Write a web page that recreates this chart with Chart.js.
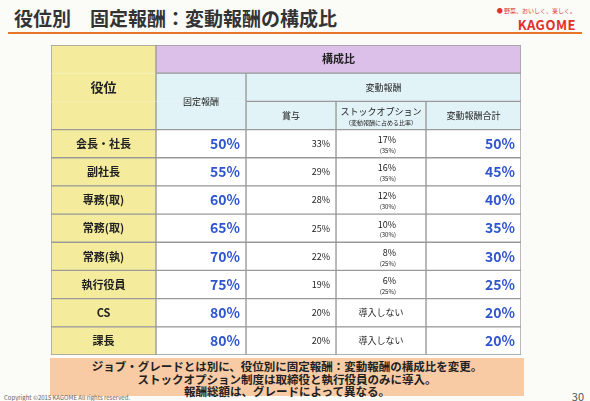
<!DOCTYPE html>
<html><head><meta charset="utf-8">
<script src="https://cdn.jsdelivr.net/npm/chart.js@4.4.1/dist/chart.umd.min.js"></script>
<style>
body{margin:0;width:590px;height:401px;background:#fbfbf8;font-family:"Noto Sans CJK JP",sans-serif;position:relative;overflow:hidden}
#title{position:absolute;left:14px;top:4px;font-size:19px;font-weight:bold;color:#333}
#rule{position:absolute;left:8px;top:32px;width:574px;height:2px;background:#e8742a}
#logo{position:absolute;right:14px;top:6px;text-align:right}
#logo .s{font-size:6px;color:#d33}
#logo .k{font-size:13px;font-weight:bold;color:#e0302a;letter-spacing:.5px}
#wrap{position:absolute;left:50px;top:44px;width:472px;height:312px}
#note{position:absolute;left:50px;top:358px;width:474px;height:36px;background:#f8cba4;text-align:center;font-size:11.5px;font-weight:bold;line-height:12.5px;padding-top:2px;color:#222}
#foot{position:absolute;left:4px;top:393px;font-size:6px;color:#666}
#pg{position:absolute;right:6px;top:388px;font-size:11px;color:#555}
</style></head><body>
<div id="title">役位別　固定報酬：変動報酬の構成比</div>
<div id="rule"></div>
<div id="logo"><div class="s">● 野菜、おいしく、楽しく。</div><div class="k">KAGOME</div></div>
<div id="wrap"><canvas id="c"></canvas></div>
<div id="note">ジョブ・グレードとは別に、役位別に固定報酬：変動報酬の構成比を変更。<br>ストックオプション制度は取締役と執行役員のみに導入。<br>報酬総額は、グレードによって異なる。</div>
<div id="foot">Copyright ©2015 KAGOME All rights reserved.</div>
<div id="pg">30</div>
<script>
// --------------------
// Table data
// --------------------
const roles = ["会長・社長","副社長","専務(取)","常務(取)","常務(執)","執行役員","CS","課長"];
const fixedPay = [50,55,60,65,70,75,80,80];
const bonus = [33,29,28,25,22,19,20,20];
const stockOption = [17,16,12,10,8,6,null,null];
const stockShare = [35,35,30,30,25,25,null,null];
const variableTotal = [50,45,40,35,30,25,20,20];
const headerRows = ["h0","h1","h2"];

// column edges on the x scale
const colEdge = [0,105,195,285,375,470];
const rows = [...headerRows, ...roles];
const N = rows.length;

const YELLOW = "#f4ec9c", PURPLE = "#dcc0ea", CYAN = "#e2f3f7", WHITE = "#ffffff", LINE = "#9a9a9a";
const BLUE = "#2f55d0";

function rowData(fn) { return rows.map((r, i) => fn(i)); }
function cell(c0, c1) { return [colEdge[c0], colEdge[c1]]; }

// spanning cell helper: rows a..b merged vertically
function spanBorder(a, b) {
  return ctx => {
    const i = ctx.dataIndex;
    return { left: 1, right: 1, top: i === a ? 1 : 0, bottom: i === b ? 1 : 0 };
  };
}

const datasets = [
  { // role column
    data: rowData(i => cell(0, 1)),
    backgroundColor: YELLOW,
    borderWidth: ctx => ctx.dataIndex < 3 ? spanBorder(0, 2)(ctx) : 1,
    texts: rowData(i => i === 1 ? "役位" : i >= 3 ? roles[i - 3] : ""),
    font: i => i === 1 ? "bold 13px 'Noto Sans CJK JP'" : "bold 11px 'Noto Sans CJK JP'",
    color: () => "#222", align: "center"
  },
  { // 構成比 header
    data: rowData(i => i === 0 ? cell(1, 5) : null),
    backgroundColor: PURPLE, borderWidth: 1,
    texts: rowData(i => i === 0 ? "構成比" : ""),
    font: () => "bold 11px 'Noto Sans CJK JP'", color: () => "#222", align: "center"
  },
  { // fixed pay
    data: rowData(i => i >= 1 ? cell(1, 2) : null),
    backgroundColor: ctx => ctx.dataIndex < 3 ? CYAN : WHITE,
    borderWidth: ctx => ctx.dataIndex < 3 ? spanBorder(1, 2)(ctx) : 1,
    texts: rowData(i => i === 1 ? "固定報酬" : i >= 3 ? fixedPay[i - 3] + "%" : ""),
    font: i => i < 3 ? "9px 'Noto Sans CJK JP'" : "bold 14px 'Noto Sans CJK JP'",
    color: i => i < 3 ? "#222" : BLUE, align: i => i < 3 ? "lowcenter" : "right"
  },
  { // 変動報酬 header
    data: rowData(i => i === 1 ? cell(2, 5) : null),
    backgroundColor: CYAN, borderWidth: 1,
    texts: rowData(i => i === 1 ? "変動報酬" : ""),
    font: () => "9px 'Noto Sans CJK JP'", color: () => "#222", align: "center"
  },
  { // bonus
    data: rowData(i => i >= 2 ? cell(2, 3) : null),
    backgroundColor: ctx => ctx.dataIndex < 3 ? CYAN : WHITE, borderWidth: 1,
    texts: rowData(i => i === 2 ? "賞与" : i >= 3 ? bonus[i - 3] + "%" : ""),
    font: () => "9px 'Noto Sans CJK JP'", color: () => "#222", align: i => i < 3 ? "center" : "right"
  },
  { // stock option
    data: rowData(i => i >= 2 ? cell(3, 4) : null),
    backgroundColor: ctx => ctx.dataIndex < 3 ? CYAN : WHITE, borderWidth: 1,
    texts: rowData(i => {
      if (i === 2) return ["ストックオプション", "（変動報酬に占める比率）"];
      if (i < 3) return "";
      const v = stockOption[i - 3];
      return v === null ? "導入しない" : [v + "%", "(" + stockShare[i - 3] + "%)"];
    }),
    font: () => "9px 'Noto Sans CJK JP'", color: () => "#222",
    align: i => i < 3 || stockOption[i - 3] === null ? "center" : "stack"
  },
  { // variable total
    data: rowData(i => i >= 2 ? cell(4, 5) : null),
    backgroundColor: ctx => ctx.dataIndex < 3 ? CYAN : WHITE, borderWidth: 1,
    texts: rowData(i => i === 2 ? "変動報酬合計" : i >= 3 ? variableTotal[i - 3] + "%" : ""),
    font: i => i < 3 ? "9px 'Noto Sans CJK JP'" : "bold 14px 'Noto Sans CJK JP'",
    color: i => i < 3 ? "#222" : BLUE, align: i => i < 3 ? "center" : "right"
  }
];

// --------------------
// Cell text plugin
// --------------------
const cellText = {
  id: "cellText",
  afterDatasetsDraw(chart) {
    const ctx = chart.ctx;
    chart.data.datasets.forEach((ds, d) => {
      chart.getDatasetMeta(d).data.forEach((el, i) => {
        const t = ds.texts[i];
        if (!t || ds.data[i] === null) return;
        const al = typeof ds.align === "function" ? ds.align(i) : ds.align;
        const x0 = Math.min(el.x, el.base), x1 = Math.max(el.x, el.base);
        const h = el.height;
        ctx.save();
        ctx.fillStyle = ds.color(i);
        ctx.textBaseline = "middle";
        if (al === "stack") {
          ctx.textAlign = "right";
          ctx.font = "9px 'Noto Sans CJK JP'";
          ctx.fillText(t[0], x1 - 30, el.y - 4);
          ctx.font = "6px 'Noto Sans CJK JP'";
          ctx.fillText(t[1], x1 - 30, el.y + 7);
        } else if (Array.isArray(t)) {
          ctx.textAlign = "center";
          ctx.font = "9px 'Noto Sans CJK JP'";
          ctx.fillText(t[0], (x0 + x1) / 2, el.y - 4);
          ctx.font = "6px 'Noto Sans CJK JP'";
          ctx.fillText(t[1], (x0 + x1) / 2, el.y + 7);
        } else {
          ctx.font = ds.font(i);
          let x = (x0 + x1) / 2, y = el.y;
          if (al === "right") { ctx.textAlign = "right"; x = x1 - 6; }
          else ctx.textAlign = "center";
          if (al === "lowcenter") y = el.y + h / 2;
          ctx.fillText(t, x, y);
        }
        ctx.restore();
      });
    });
  }
};

new Chart(document.getElementById("c"), {
  type: "bar",
  data: {
    labels: rows,
    datasets: datasets.map(ds => ({
      ...ds, borderColor: LINE, borderSkipped: false,
      barPercentage: 1, categoryPercentage: 1, grouped: false
    }))
  },
  options: {
    indexAxis: "y", responsive: true, maintainAspectRatio: false, animation: false,
    layout: { padding: 1 },
    plugins: { legend: { display: false }, tooltip: { enabled: false } },
    scales: {
      x: { type: "linear", min: 0, max: 470, display: false },
      y: { display: false }
    }
  },
  plugins: [cellText]
});
</script>
</body></html>
